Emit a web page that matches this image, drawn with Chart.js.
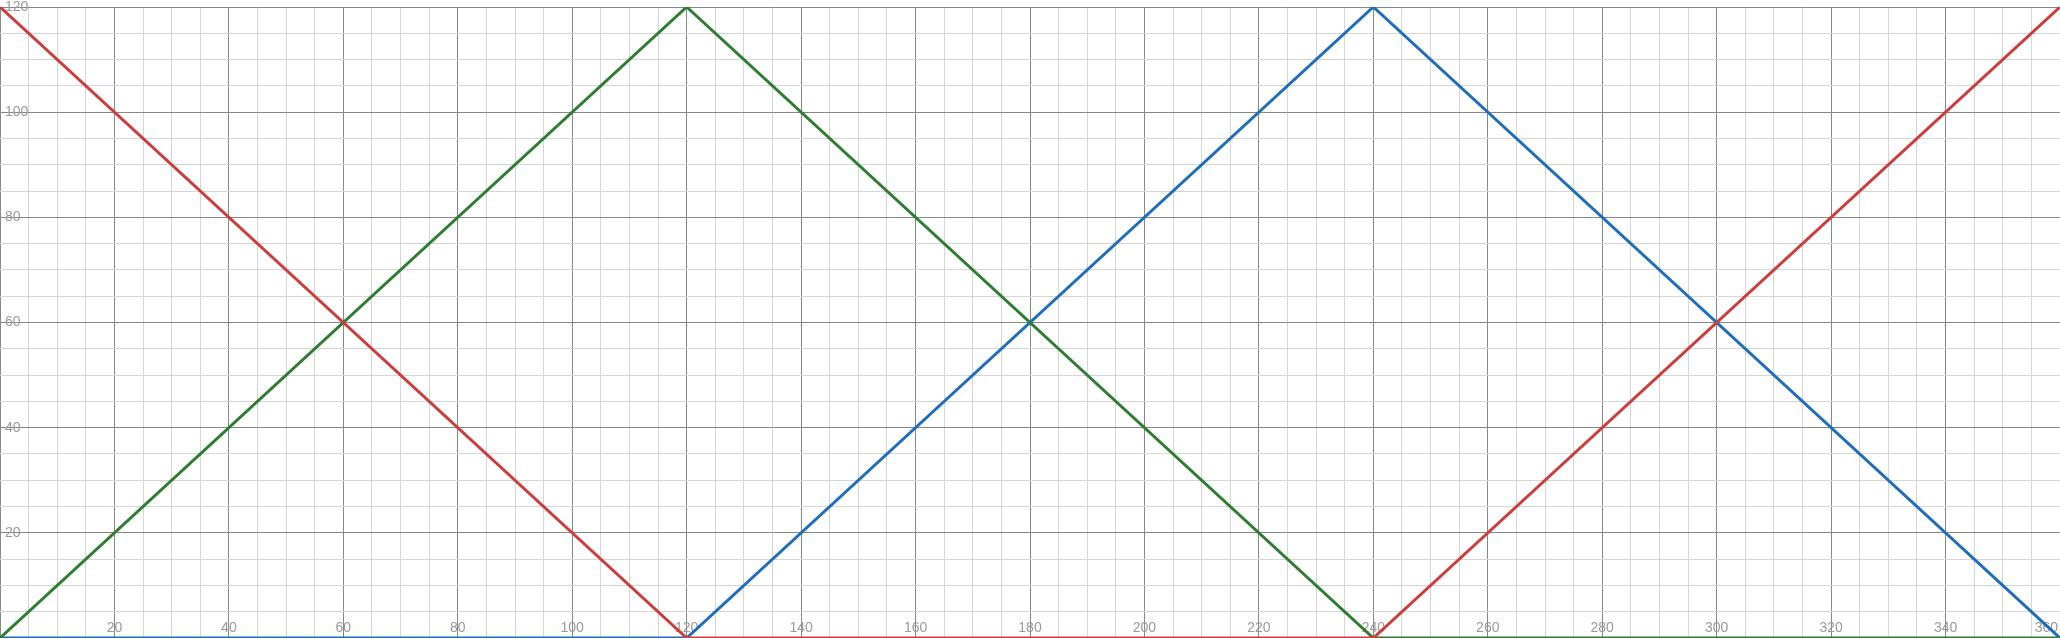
<!DOCTYPE html>
<html>
<head>
<meta charset="utf-8">
<script src="https://cdn.jsdelivr.net/npm/chart.js@4"></script>
<style>
  html, body { margin: 0; padding: 0; background: #fff; }
  #wrap { width: 2060px; height: 638px; position: relative; }
</style>
</head>
<body>
<div id="wrap"><canvas id="hueChart"></canvas></div>
<script>
// hue angle (degrees) and the rgb channel level at each breakpoint
var HUE   = [0, 120, 240, 360],
    RED   = [120, 0, 0, 120],
    GREEN = [0, 120, 0, 0],
    BLUE  = [0, 0, 120, 0];

var X_LABELS = [20, 40, 60, 80, 100, 120, 140, 160, 180, 200, 220, 240, 260, 280, 300, 320, 340, 360],
    Y_LABELS = [20, 40, 60, 80, 100, 120];

var LABEL_FONT = '14px "Liberation Sans", Arial, sans-serif',
    LABEL_COLOR = '#999';

function gridColor(ctx) {
    return ctx.tick && ctx.tick.value % 20 === 0 ? '#888' : '#d6d6d6';
}

function toPoints(ys) {
    return HUE.map(function (h, i) { return { x: h, y: ys[i] }; });
}

// x labels are drawn inside the plot, and the last one is kept on the canvas
var xLabelPlugin = {
    id: 'xLabels',
    beforeDatasetsDraw: function (chart) {
        var scale = chart.scales.x, ctx = chart.ctx;
        ctx.save();
        ctx.font = LABEL_FONT;
        ctx.fillStyle = LABEL_COLOR;
        ctx.textAlign = 'center';
        ctx.textBaseline = 'alphabetic';
        X_LABELS.forEach(function (v) {
            var txt = String(v);
            var w = ctx.measureText(txt).width;
            var px = Math.min(scale.getPixelForValue(v), chart.width - w / 2 - 2);
            ctx.fillText(txt, px, chart.chartArea.bottom - 6);
        });
        ctx.restore();
    }
};

var ctx1 = document.getElementById("hueChart").getContext("2d");
var hueChart = new Chart(ctx1, {
    type: 'line',
    data: {
        datasets: [
            { label: 'R', data: toPoints(RED),   borderColor: '#cf3c3c', borderWidth: 3 },
            { label: 'G', data: toPoints(GREEN), borderColor: '#2e7d32', borderWidth: 3 },
            { label: 'B', data: toPoints(BLUE),  borderColor: '#1f6dbd', borderWidth: 3 }
        ]
    },
    options: {
        responsive: true,
        maintainAspectRatio: false,
        animation: false,
        layout: { padding: 0 },
        elements: {
            line: { tension: 0, fill: false },
            point: { radius: 0, hoverRadius: 0 }
        },
        plugins: {
            legend: { display: false },
            tooltip: { enabled: false }
        },
        scales: {
            x: {
                type: 'linear',
                min: 0,
                max: 360,
                border: { display: false },
                grid: { color: gridColor, lineWidth: 1, drawTicks: false },
                ticks: { display: false, stepSize: 5, autoSkip: false },
                afterFit: function (s) {
                    s.height = 0;
                    s.paddingLeft = 0;
                    s.paddingRight = 0;
                }
            },
            y: {
                min: 0,
                max: 120,
                border: { display: false },
                grid: { color: gridColor, lineWidth: 1, drawTicks: false },
                ticks: {
                    stepSize: 5,
                    autoSkip: false,
                    mirror: true,
                    padding: 5,
                    color: LABEL_COLOR,
                    font: { family: '"Liberation Sans", Arial, sans-serif', size: 14 },
                    // empty string keeps the minor grid line, null would drop it
                    callback: function (v) {
                        return Y_LABELS.indexOf(v) >= 0 ? String(v) : '';
                    }
                },
                afterFit: function (s) {
                    s.width = 0;
                    s.paddingTop = 7;
                    s.paddingBottom = 0;
                }
            }
        }
    },
    plugins: [xLabelPlugin]
});
</script>
</body>
</html>
